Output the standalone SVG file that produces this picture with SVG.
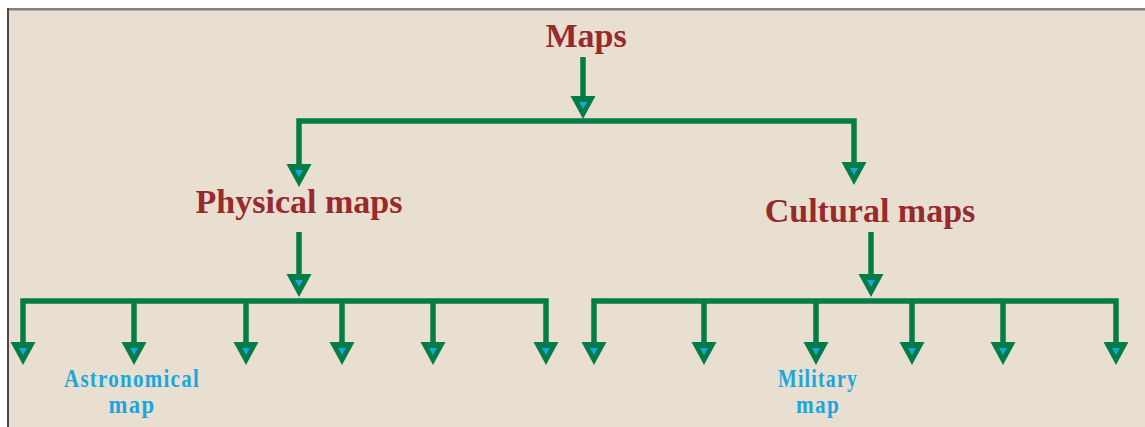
<svg xmlns="http://www.w3.org/2000/svg" xmlns:xlink="http://www.w3.org/1999/xlink" width="1145" height="427" viewBox="0 0 1145 427">
<style>
.title{font-family:"Liberation Serif","Times New Roman",serif;font-weight:bold;font-size:34px;fill:#982a2e;text-anchor:middle}
.leaf{font-family:"Liberation Serif","Times New Roman",serif;font-weight:bold;font-size:25px;letter-spacing:1.5px;fill:#1ba6de;text-anchor:middle}
.ln{fill:none;stroke:#047c47;stroke-width:5.5;stroke-linejoin:miter;stroke-linecap:butt}
</style>
<defs>
<g id="head">
<polygon points="-12.5,-23 12.5,-23 0,0" fill="#047c47"/>
<polygon points="-4,-17 4,-17 0,-10" fill="#15a8e0"/>
</g>
</defs>
<rect x="0" y="0" width="1145" height="427" fill="#ffffff"/>
<rect x="7" y="8" width="1138" height="419" fill="#e8dfd0"/>
<rect x="7" y="8" width="1138" height="2.5" fill="#858080"/>
<rect x="7" y="8" width="2" height="419" fill="#4d4641"/>

<g id="connectors">
<path class="ln" d="M583,57 V98"/>
<path class="ln" d="M299,166 V121 H854 V164"/>
<path class="ln" d="M299,232 V276"/>
<path class="ln" d="M871,232 V276"/>
<path class="ln" d="M23,344 V301 H546 V344 M134,301 V344 M246,301 V344 M342,301 V344 M433,301 V344"/>
<path class="ln" d="M594,344 V301 H1116 V344 M704,301 V344 M816,301 V344 M912,301 V344 M1003,301 V344"/>
<use xlink:href="#head" x="583" y="119"/>
<use xlink:href="#head" x="299" y="187"/>
<use xlink:href="#head" x="854" y="185"/>
<use xlink:href="#head" x="299" y="297"/>
<use xlink:href="#head" x="871" y="297"/>
<use xlink:href="#head" x="23" y="365"/>
<use xlink:href="#head" x="134" y="365"/>
<use xlink:href="#head" x="246" y="365"/>
<use xlink:href="#head" x="342" y="365"/>
<use xlink:href="#head" x="433" y="365"/>
<use xlink:href="#head" x="546" y="365"/>
<use xlink:href="#head" x="594" y="365"/>
<use xlink:href="#head" x="704" y="365"/>
<use xlink:href="#head" x="816" y="365"/>
<use xlink:href="#head" x="912" y="365"/>
<use xlink:href="#head" x="1003" y="365"/>
<use xlink:href="#head" x="1116" y="365"/>
</g>

<g id="maps"><text class="title" x="586" y="47">Maps</text></g>
<g id="physical"><text class="title" x="299" y="213">Physical maps</text></g>
<g id="cultural"><text class="title" x="870" y="222">Cultural maps</text></g>
<g id="astronomical">
<text class="leaf" x="132" y="387" textLength="136" lengthAdjust="spacingAndGlyphs">Astronomical</text>
<text class="leaf" x="132" y="413" textLength="47" lengthAdjust="spacingAndGlyphs">map</text>
</g>
<g id="military">
<text class="leaf" x="818" y="387" textLength="80" lengthAdjust="spacingAndGlyphs">Military</text>
<text class="leaf" x="818" y="413" textLength="44" lengthAdjust="spacingAndGlyphs">map</text>
</g>
</svg>
